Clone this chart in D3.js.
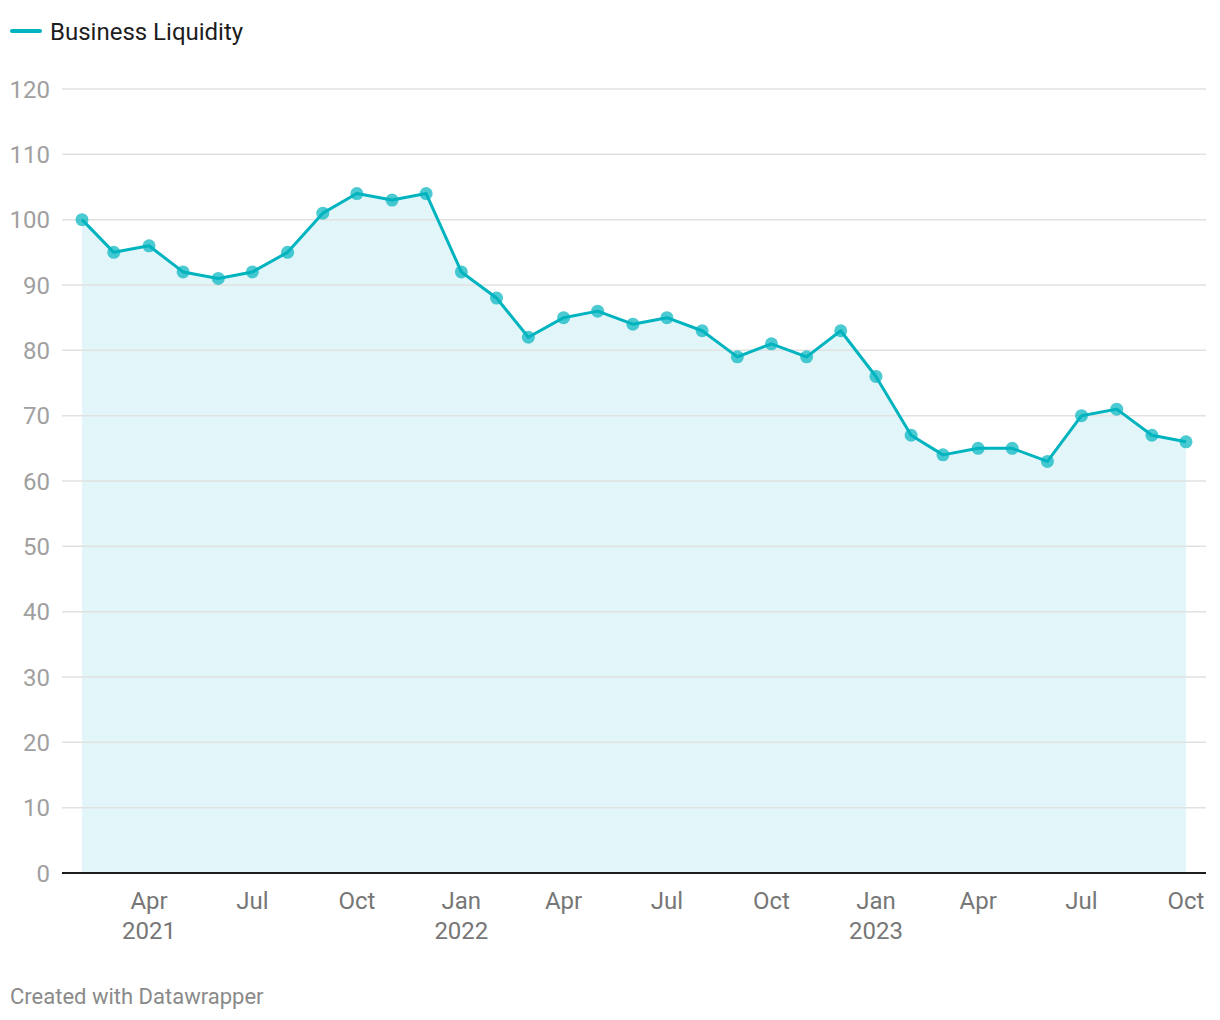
<!DOCTYPE html>
<html><head><meta charset="utf-8">
<script src="https://cdn.jsdelivr.net/npm/d3@7"></script>
<style>
html,body{margin:0;padding:0;background:#fff;}
svg{display:block;font-family:Roboto, "Noto Sans", sans-serif;}
</style></head>
<body>
<svg id="c" width="1220" height="1020"></svg>
<script>
const seriesName = "Business Liquidity";
const months = ["2021-02","2021-03","2021-04","2021-05","2021-06","2021-07","2021-08","2021-09","2021-10","2021-11","2021-12",
"2022-01","2022-02","2022-03","2022-04","2022-05","2022-06","2022-07","2022-08","2022-09","2022-10","2022-11","2022-12",
"2023-01","2023-02","2023-03","2023-04","2023-05","2023-06","2023-07","2023-08","2023-09","2023-10"];
const values = [100,95,96,92,91,92,95,101,104,103,104,
92,88,82,85,86,84,85,83,79,81,79,83,
76,67,64,65,65,63,70,71,67,66];
const yTicks = [0,10,20,30,40,50,60,70,80,90,100,110,120];
const xTickDates = ["2021-04","2021-07","2021-10","2022-01","2022-04","2022-07","2022-10","2023-01","2023-04","2023-07","2023-10"];
const xTickLabels = [["Apr","2021"],["Jul"],["Oct"],["Jan","2022"],["Apr"],["Jul"],["Oct"],["Jan","2023"],["Apr"],["Jul"],["Oct"]];

const parse = d3.timeParse("%Y-%m");
const data = months.map((m,i)=>({date:parse(m), value:values[i]}));

const svg = d3.select("#c");
const x = d3.scaleTime().domain([parse(months[0]), parse(months[months.length-1])]).range([82,1186]);
const y = d3.scaleLinear().domain([0,120]).range([873,89]);
const color = "#00b4bf";

// legend
svg.append("line").attr("x1",12).attr("x2",40).attr("y1",31).attr("y2",31)
  .attr("stroke",color).attr("stroke-width",4).attr("stroke-linecap","round");
svg.append("text").attr("x",50).attr("y",40).attr("font-size",24).attr("fill","#1d1d1d").text(seriesName);

// area
svg.append("path").datum(data)
  .attr("d", d3.area().x(d=>x(d.date)).y0(y(0)).y1(d=>y(d.value)))
  .attr("fill","#e2f6f9");

// grid
const gy = svg.append("g");
yTicks.forEach(t=>{
  if(t!==0) gy.append("line").attr("x1",62).attr("x2",1206).attr("y1",y(t)).attr("y2",y(t))
    .attr("stroke","#e1e1e1").attr("stroke-width",1.5);
  gy.append("text").attr("x",50).attr("y",y(t)+8.5).attr("text-anchor","end")
    .attr("font-size",24).attr("fill","#a0a0a0").text(t);
});

// baseline
svg.append("line").attr("x1",62).attr("x2",1206).attr("y1",y(0)).attr("y2",y(0))
  .attr("stroke","#1d1d1d").attr("stroke-width",2);

// x ticks
xTickDates.forEach((d,i)=>{
  const t = svg.append("text").attr("x",x(parse(d))).attr("y",909).attr("text-anchor","middle")
    .attr("font-size",24).attr("fill","#777777");
  xTickLabels[i].forEach((s,j)=>{
    t.append("tspan").attr("x",x(parse(d))).attr("dy", j===0?0:30).text(s);
  });
});

// line
svg.append("path").datum(data)
  .attr("d", d3.line().x(d=>x(d.date)).y(d=>y(d.value)))
  .attr("fill","none").attr("stroke",color).attr("stroke-width",3).attr("stroke-linejoin","round");

// points
svg.append("g").selectAll("circle").data(data).join("circle")
  .attr("cx",d=>x(d.date)).attr("cy",d=>y(d.value)).attr("r",6.5)
  .attr("fill",color).attr("fill-opacity",0.7);

// footer
svg.append("text").attr("x",10).attr("y",1004).attr("font-size",22).attr("fill","#8a8a8a").text("Created with Datawrapper");
</script>
</body></html>
